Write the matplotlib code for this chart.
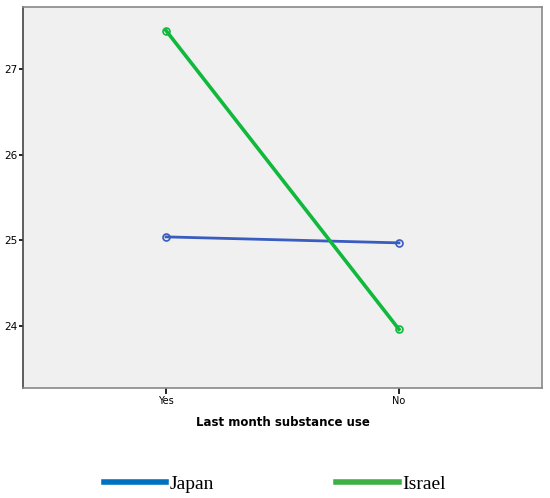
import matplotlib
matplotlib.use("Agg")
import matplotlib.pyplot as plt
from matplotlib.lines import Line2D

categories = ["Yes", "No"]
japan = [25.04, 24.97]
israel = [27.45, 23.96]
series_names = ["Japan", "Israel"]

fig = plt.figure(figsize=(5.5, 4.98), dpi=100)
ax = fig.add_axes([23 / 550, 1 - 388 / 498, (542 - 23) / 550, (388 - 7) / 498])
ax.set_facecolor("#f0f0f0")

xs = range(len(categories))
ax.plot(xs, japan, "-o", color="#3a5bbf", lw=2.0, ms=5, mfc="none", mew=1.2)
ax.plot(xs, israel, "-o", color="#10b83c", lw=2.6, ms=5, mfc="none", mew=1.2)

ax.set_xlim(-0.614, 1.614)
ax.set_ylim(23.275, 27.725)
ax.set_xticks(list(xs))
ax.set_xticklabels(categories, fontsize=7)
ax.set_yticks([24, 25, 26, 27])
ax.tick_params(axis="y", labelsize=7.5, length=3, width=1.2, pad=1)
ax.tick_params(axis="x", length=4, width=1.2, pad=2)
ax.set_xlabel("Last month substance use", fontsize=8.5, fontweight="bold", labelpad=7)
for s in ax.spines.values():
    s.set_color("#888888")
    s.set_linewidth(1.2)
ax.spines["left"].set_color("#444444")

handles = [Line2D([], [], color="#0070c0", lw=4), Line2D([], [], color="#3cb043", lw=4)]
fig.legend(handles, series_names, loc="center left", bbox_to_anchor=(86 / 550, 1 - 484 / 498),
           ncol=2, frameon=False, handlelength=3.2, handletextpad=0.2, columnspacing=6.3,
           prop={"family": "Liberation Serif", "size": 14})

fig.savefig("out.png", dpi=100)
